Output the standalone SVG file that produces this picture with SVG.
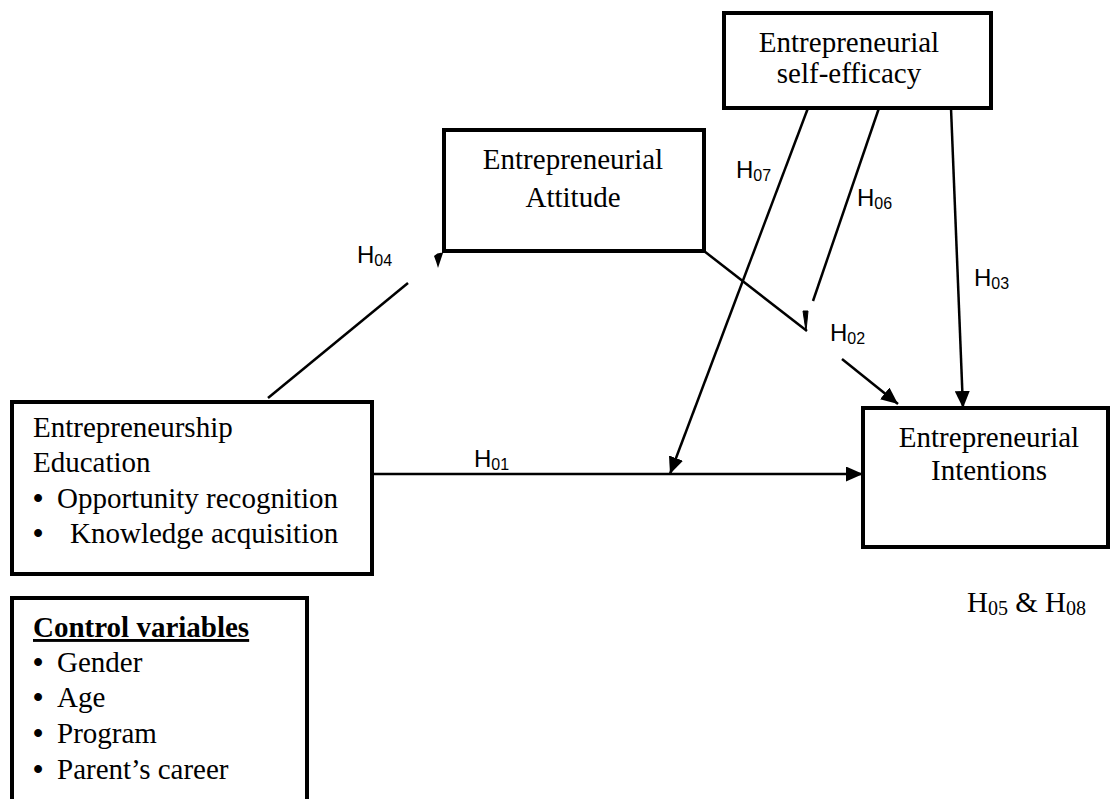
<svg xmlns="http://www.w3.org/2000/svg" width="1110" height="799" viewBox="0 0 1110 799">
<defs>
<style>
.box{fill:#fff;stroke:#000;stroke-width:4}
.t{font-family:"Liberation Serif","Times New Roman",serif;font-size:29px;fill:#000}
.bl{font-weight:bold}
.tc{text-anchor:middle}
.h{font-family:"Liberation Sans",Arial,sans-serif;font-size:24px;fill:#000}
.sub{font-size:16px}
.ln{stroke:#000;stroke-width:2.5;fill:none}
</style>
<marker id="arr" viewBox="0 0 17 15" refX="17" refY="7.5" markerWidth="17" markerHeight="15" orient="auto" markerUnits="userSpaceOnUse">
<path d="M0,0 L17,7.5 L0,15 Z" fill="#000"/>
</marker>
</defs>
<rect width="1110" height="799" fill="#fff"/>

<g id="connectors">
<line class="ln" x1="372" y1="474" x2="863" y2="474" marker-end="url(#arr)"/>
<line class="ln" x1="268" y1="398" x2="408" y2="283"/>
<path d="M434,256 Q438,252 443,253 L438,268 Q436,261 434,256 Z" fill="#000"/>
<line class="ln" x1="704" y1="251" x2="807" y2="331"/>
<line class="ln" x1="842" y1="359" x2="898" y2="404" marker-end="url(#arr)"/>
<line class="ln" x1="879" y1="108" x2="813" y2="301"/>
<path d="M803,311 L808,311 L806,331 Z" fill="#000" stroke="#000" stroke-width="1"/>
<line class="ln" x1="808" y1="108" x2="670" y2="474" marker-end="url(#arr)"/>
<line class="ln" x1="951" y1="108" x2="963" y2="408" marker-end="url(#arr)"/>
<text class="h" x="474" y="467">H<tspan class="sub" dy="3">01</tspan></text>
<text class="h" x="830" y="341">H<tspan class="sub" dy="3">02</tspan></text>
<text class="h" x="974" y="286">H<tspan class="sub" dy="3">03</tspan></text>
<text class="h" x="357" y="263">H<tspan class="sub" dy="3">04</tspan></text>
<text class="h" x="857" y="206">H<tspan class="sub" dy="3">06</tspan></text>
<text class="h" x="736" y="178">H<tspan class="sub" dy="3">07</tspan></text>
</g>

<g id="self-efficacy">
<rect class="box" x="724" y="13" width="267" height="95"/>
<text class="t tc" x="849" y="52">Entrepreneurial</text>
<text class="t tc" x="849" y="83">self-efficacy</text>
</g>

<g id="attitude">
<rect class="box" x="444" y="130" width="260" height="121"/>
<text class="t tc" x="573" y="169">Entrepreneurial</text>
<text class="t tc" x="573" y="207">Attitude</text>
</g>

<g id="education">
<rect class="box" x="12" y="402" width="360" height="172"/>
<text class="t" x="33" y="437">Entrepreneurship</text>
<text class="t" x="33" y="472">Education</text>
<text class="t" x="33" y="508"><tspan class="bl">•</tspan><tspan x="57">Opportunity recognition</tspan></text>
<text class="t" x="33" y="543"><tspan class="bl">•</tspan><tspan x="70">Knowledge acquisition</tspan></text>
</g>

<g id="intentions">
<rect class="box" x="863" y="408" width="245" height="139"/>
<text class="t tc" x="989" y="447">Entrepreneurial</text>
<text class="t tc" x="989" y="480">Intentions</text>
</g>

<g id="controls">
<path d="M12,801 L12,598 L307,598 L307,801" fill="#fff" stroke="#000" stroke-width="4"/>
<text class="t" x="33" y="637" font-weight="bold" text-decoration="underline">Control variables</text>
<text class="t" x="33" y="672"><tspan class="bl">•</tspan><tspan x="57">Gender</tspan></text>
<text class="t" x="33" y="707"><tspan class="bl">•</tspan><tspan x="57">Age</tspan></text>
<text class="t" x="33" y="743"><tspan class="bl">•</tspan><tspan x="57">Program</tspan></text>
<text class="t" x="33" y="779"><tspan class="bl">•</tspan><tspan x="57">Parent’s career</tspan></text>
</g>

<g id="note">
<text class="t" x="967" y="612">H<tspan font-size="20px" dy="3">05</tspan><tspan dy="-3"> &amp; H</tspan><tspan font-size="20px" dy="3">08</tspan></text>
</g>
</svg>
